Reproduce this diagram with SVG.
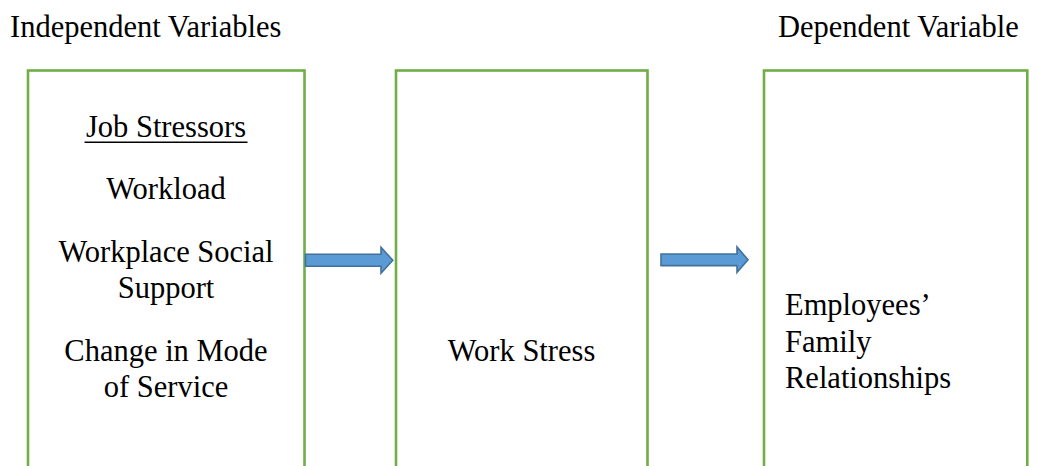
<svg xmlns="http://www.w3.org/2000/svg" width="1037" height="466" viewBox="0 0 1037 466">
<style>
.box{fill:#fff;stroke:#70AD47;stroke-width:2.6}
.arrow{fill:#5B9BD5;stroke:#41719C;stroke-width:1.6;stroke-linejoin:miter}
</style>
<rect width="1037" height="466" fill="#fff"/>
<text id="hdr-independent" x="10" y="37" font-size="30.5" font-family="Times New Roman">Independent Variables</text>
<text id="hdr-dependent" x="778" y="37" font-size="30.5" font-family="Times New Roman">Dependent Variable</text>
<g id="node-job-stressors">
<rect class="box" x="28" y="70.5" width="276.5" height="420"/>
<text x="166" y="136.7" font-size="30.5" font-family="Times New Roman" text-anchor="middle">Job Stressors</text>
<line x1="84.5" y1="142.3" x2="247.5" y2="142.3" stroke="#000" stroke-width="1.5"/>
<text x="166" y="198.5" font-size="30.5" font-family="Times New Roman" text-anchor="middle">Workload</text>
<text x="166" y="261.5" font-size="30.5" font-family="Times New Roman" text-anchor="middle">Workplace Social</text>
<text x="166" y="298" font-size="30.5" font-family="Times New Roman" text-anchor="middle">Support</text>
<text x="166" y="360.7" font-size="30.5" font-family="Times New Roman" text-anchor="middle">Change in Mode</text>
<text x="166" y="397.2" font-size="30.5" font-family="Times New Roman" text-anchor="middle">of Service</text>
</g>
<g id="node-work-stress">
<rect class="box" x="396" y="70.5" width="251.5" height="420"/>
<text x="521.5" y="360.7" font-size="30.5" font-family="Times New Roman" text-anchor="middle">Work Stress</text>
</g>
<g id="node-family">
<rect class="box" x="764" y="70.5" width="263.3" height="420"/>
<text x="785" y="315" font-size="30.5" font-family="Times New Roman">Employees&#8217;</text>
<text x="785" y="351.7" font-size="30.5" font-family="Times New Roman">Family</text>
<text x="785" y="388.3" font-size="30.5" font-family="Times New Roman">Relationships</text>
</g>
<g id="connectors">
<polygon class="arrow" points="305.5,254.3 381,254.3 381,247.3 392.8,260.3 381,273.2 381,266.2 305.5,266.2"/>
<polygon class="arrow" points="661,254 737,254 737,247 748,259.7 737,272.3 737,265.6 661,265.6"/>
</g>
</svg>
